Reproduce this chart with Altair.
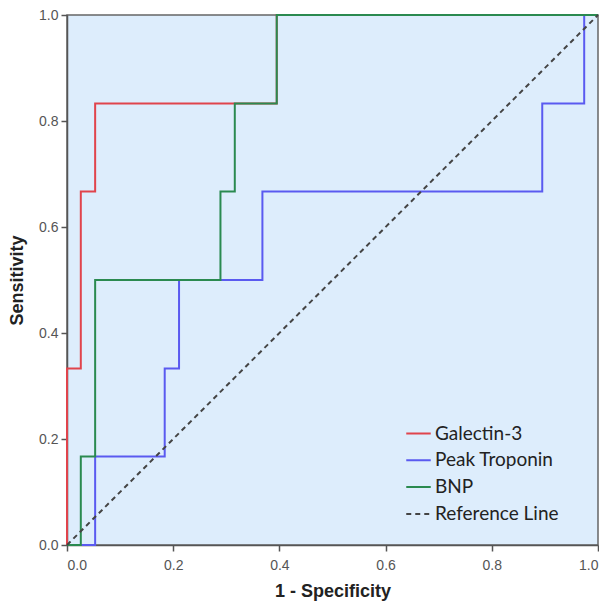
import altair as alt
import pandas as pd

# ROC step curves (1 - Specificity, Sensitivity)
gal_x = [0.0, 0.0, 0.026, 0.026, 0.053, 0.053, 0.395, 0.395, 1.0]
gal_y = [0.0, 0.333, 0.333, 0.667, 0.667, 0.833, 0.833, 1.0, 1.0]

trop_x = [0.0, 0.053, 0.053, 0.184, 0.184, 0.211, 0.211, 0.368, 0.368, 0.895, 0.895, 0.974, 0.974, 1.0]
trop_y = [0.0, 0.0, 0.167, 0.167, 0.333, 0.333, 0.5, 0.5, 0.667, 0.667, 0.833, 0.833, 1.0, 1.0]

bnp_x = [0.0, 0.026, 0.026, 0.053, 0.053, 0.289, 0.289, 0.316, 0.316, 0.395, 0.395, 1.0]
bnp_y = [0.0, 0.0, 0.167, 0.167, 0.5, 0.5, 0.667, 0.667, 0.833, 0.833, 1.0, 1.0]

ref_x = [0.0, 1.0]
ref_y = [0.0, 1.0]

series_names = ["Galectin-3", "Peak Troponin", "BNP", "Reference Line"]
series_colors = ["#e0444c", "#5a5af0", "#2a8a50", "#444444"]
series_dash = [[1, 0], [1, 0], [1, 0], [5, 4]]

rows = []
for name, xs, ys in [("Galectin-3", gal_x, gal_y), ("Peak Troponin", trop_x, trop_y),
                     ("BNP", bnp_x, bnp_y), ("Reference Line", ref_x, ref_y)]:
    for i, (xv, yv) in enumerate(zip(xs, ys)):
        rows.append({"series": name, "x": xv, "y": yv, "idx": i})
df = pd.DataFrame(rows)

ticks = [0, 0.2, 0.4, 0.6, 0.8, 1.0]

base = alt.Chart(df).mark_line(strokeWidth=2).encode(
    x=alt.X("x:Q", scale=alt.Scale(domain=[0, 1], nice=False),
            axis=alt.Axis(title="1 - Specificity", values=ticks, format=".1f",
                          labelPadding=7, titlePadding=10)),
    y=alt.Y("y:Q", scale=alt.Scale(domain=[0, 1], nice=False),
            axis=alt.Axis(title="Sensitivity", values=ticks, format=".1f",
                          labelPadding=3, titlePadding=12)),
    color=alt.Color("series:N", scale=alt.Scale(domain=series_names, range=series_colors),
                    legend=alt.Legend(title=None, orient="none", legendX=338, legendY=405,
                                      symbolType="stroke", symbolSize=600, symbolStrokeWidth=2,
                                      labelFontSize=19, labelFont="Lato", labelColor="#222",
                                      rowPadding=2.8, labelOffset=3)),
    strokeDash=alt.StrokeDash("series:N", scale=alt.Scale(domain=series_names, range=series_dash),
                              legend=alt.Legend(title=None)),
    order=alt.Order("idx:Q"),
)

layers = [base.transform_filter(alt.datum.series == n)
          for n in ["Peak Troponin", "Galectin-3", "BNP", "Reference Line"]]

chart = alt.layer(*layers).properties(
    width=531, height=530,
    autosize=alt.AutoSizeParams(type="none"),
    padding={"left": 59, "top": 7, "right": 1, "bottom": 57},
).configure_view(
    fill="#ddedfc", stroke="#666666", strokeWidth=1.5
).configure_axis(
    labelFont="Liberation Sans", labelFontSize=14, labelColor="#555",
    titleFont="Liberation Sans", titleFontSize=18, titleFontWeight="bold", titleColor="#222",
    domainColor="#555", domainWidth=1.5, tickColor="#555", tickSize=6, tickWidth=1.5,
    grid=False
)

chart.save("out.html", embed_options={"renderer": "svg", "actions": False})
